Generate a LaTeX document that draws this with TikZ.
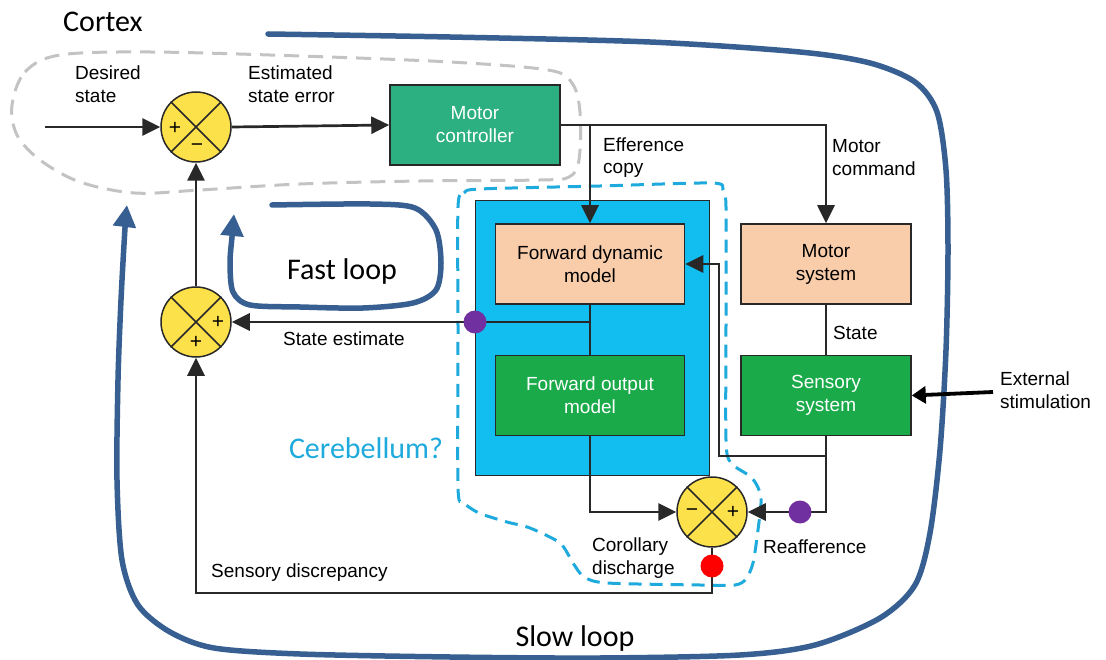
\documentclass[tikz,border=0pt]{standalone}
\usepackage{fontspec}
\setmainfont{Liberation Sans}
\newfontfamily\carlito{Carlito}
\usetikzlibrary{arrows.meta,calc}
\definecolor{mcgreen}{RGB}{44,176,130}
\definecolor{boxgreen}{RGB}{26,170,74}
\definecolor{peach}{RGB}{250,205,170}
\definecolor{cyanbg}{RGB}{18,190,240}
\definecolor{sumyellow}{RGB}{253,225,75}
\definecolor{dotpurple}{RGB}{112,48,160}
\definecolor{cerblue}{RGB}{30,170,220}
\definecolor{loopblue}{RGB}{55,95,145}
\definecolor{linegray}{RGB}{40,40,40}
\definecolor{dashgray}{RGB}{195,195,195}
\begin{document}
\begin{tikzpicture}[x=1pt,y=-1pt,
  txt/.style={inner sep=0pt, align=left, anchor=west, font=\fontsize{19}{22.5}\selectfont},
  big/.style={inner sep=0pt, font=\carlito\fontsize{30}{34}\selectfont},
  box/.style={draw=linegray, line width=1.5pt, minimum height=80pt, inner sep=2pt, align=center,
              font=\fontsize{19}{23}\selectfont},
  greenbox/.style={box, fill=boxgreen, text=white},
  peachbox/.style={box, fill=peach, text=black},
  sumj/.style={circle, draw=linegray, fill=sumyellow, line width=1.5pt, minimum size=70pt, inner sep=0pt},
  sign/.style={inner sep=0pt, font=\fontsize{21}{21}\selectfont},
  conn/.style={draw=linegray, line width=2.7pt},
  arr/.style={conn, -{Triangle[length=18pt,width=17pt]}},
  dot/.style={circle, inner sep=0pt, minimum size=23pt},
  loop/.style={draw=loopblue, line width=5.5pt, line cap=round, -{Triangle[length=22pt,width=22pt]}},
]
\useasboundingbox (0,0) rectangle (1106,660);

% cerebellum background
\fill[cyanbg, draw=linegray, line width=0.8pt] (475,200) rectangle (709,475);

% cortex dashed region
\draw[dashgray, line width=3pt, dash pattern=on 15pt off 9pt]
  plot[smooth cycle, tension=0.55] coordinates {
   (12,105) (25,72) (60,55) (150,52) (300,56) (450,62) (548,70) (572,83)
   (580,112) (579,160) (569,177) (540,180) (420,181) (300,184) (200,190)
   (135,193) (80,182) (40,160) (17,135)};

% cerebellum dashed region
\draw[cerblue, line width=3pt, dash pattern=on 13pt off 8pt]
  plot[smooth cycle, tension=0.45] coordinates {
   (458,207) (464,193) (480,189) (600,186) (712,183) (723,190) (726,207)
   (726,320) (726,440) (731,463) (752,478) (761,497) (758,530) (753,563)
   (746,579) (735,585) (700,585) (607,583) (584,577) (573,563) (560,543)
   (530,528) (507,522) (479,513) (463,502) (458,487) (458,330)};

% slow loop
\draw[loop] plot[smooth, tension=0.5] coordinates {
  (268,34) (450,37) (650,42) (800,52) (870,63) (915,82) (937,112) (946,170)
  (948,250) (946,350) (940,450) (930,533) (915,585) (880,618) (815,645)
  (740,655) (600,658) (450,657) (300,654) (214,648) (170,632) (138,605)
  (122,560) (117,480) (118,380) (121,300) (125,228) (127,205)};

% fast loop
\draw[loop] plot[smooth, tension=0.5] coordinates {
  (272,205) (370,204) (415,208) (436,230) (441,263) (436,290) (413,303)
  (363,308) (300,307) (250,305) (233,292) (230,263) (232,237) (234,214)};

% boxes
\node[box, fill=mcgreen, text=white, minimum width=170pt] (mc) at (475,125) {Motor\\controller};
\node[peachbox, minimum width=189pt] (fdm) at (590,264) {Forward dynamic\\model};
\node[greenbox, minimum width=189pt] (fom) at (590,395.5) {Forward output\\model};
\node[peachbox, minimum width=170pt] (ms) at (826,264) {Motor\\system};
\node[greenbox, minimum width=170pt] (ss) at (826,395.5) {Sensory\\system};

% summing junctions
\node[sumj] (s1) at (196,127) {};
\node[sumj] (s2) at (196,322) {};
\node[sumj] (s3) at (712,512) {};
\foreach \s in {s1,s2,s3}{
  \draw[linegray, line width=1.5pt] (\s.north west) -- (\s.south east) (\s.north east) -- (\s.south west);
}
\node[sign] at ($(s1)+(-21,1)$) {+};
\node[sign] at ($(s1)+(1,21)$) {−};
\node[sign] at ($(s2)+(22,0)$) {+};
\node[sign] at ($(s2)+(0,20)$) {+};
\node[sign] at ($(s3)+(-20,1)$) {−};
\node[sign] at ($(s3)+(21,0)$) {+};

% coordinates
\coordinate (in) at (45,127);
\coordinate (k) at (719,456);
\coordinate (b) at ($(s2.south |- 0,593)$);
\coordinate (ext) at (993,392);

% connectors
\draw[arr] (in) -- (s1.west);
\draw[arr] (s1.east) -- (mc.west);
\draw[arr] (mc.east) -| (ms.north);
\draw[arr] (fdm.north |- mc.east) -- (fdm.north);
\draw[conn] (fdm.south) -- (fom.north);
\draw[arr] (fdm.south |- s2.east) -- (s2.east);
\draw[conn] (ms.south) -- (ss.north);
\draw[arr] (ss.south) |- (s3.east);
\draw[arr] (ss.south |- k) -- (k) |- (fdm.east);
\draw[arr] (fom.south) |- (s3.west);
\draw[arr] (s3.south) |- (b) -- (s2.south);
\draw[arr] (s2.north) -- (s1.south);
\draw[draw=black, line width=3.8pt, -{Triangle[length=14pt,width=17pt]}] (ext) -- (ss.east);

% dots
\node[dot, fill=dotpurple] (d1) at (475,322) {};
\node[dot, fill=dotpurple] (d2) at (800,512) {};
\node[dot, fill=red] (d3) at (712,566) {};

% labels
\node[big, anchor=west] (cortex) at (63,22) {Cortex};
\node[big] (fast) at (342,272) {Fast loop};
\node[big] (slow) at (575,638) {Slow loop};
\node[big, text=cerblue] (cer) at (366,448) {Cerebellum?};

\node[txt] at (75,84) {Desired\\state};
\node[txt] at (248,84) {Estimated\\state error};
\node[txt] at (603,157.5) {Efference\\copy};
\node[txt] at (832,157.5) {Motor\\command};
\node[txt] at (833,333) {State};
\node[txt] at (283,339) {State estimate};
\node[txt] at (592,558) {Corollary\\discharge};
\node[txt] at (763,547) {Reafference};
\node[txt] at (211,573) {Sensory discrepancy};
\node[txt] at (1000,390) {External\\stimulation};
\end{tikzpicture}
\end{document}
